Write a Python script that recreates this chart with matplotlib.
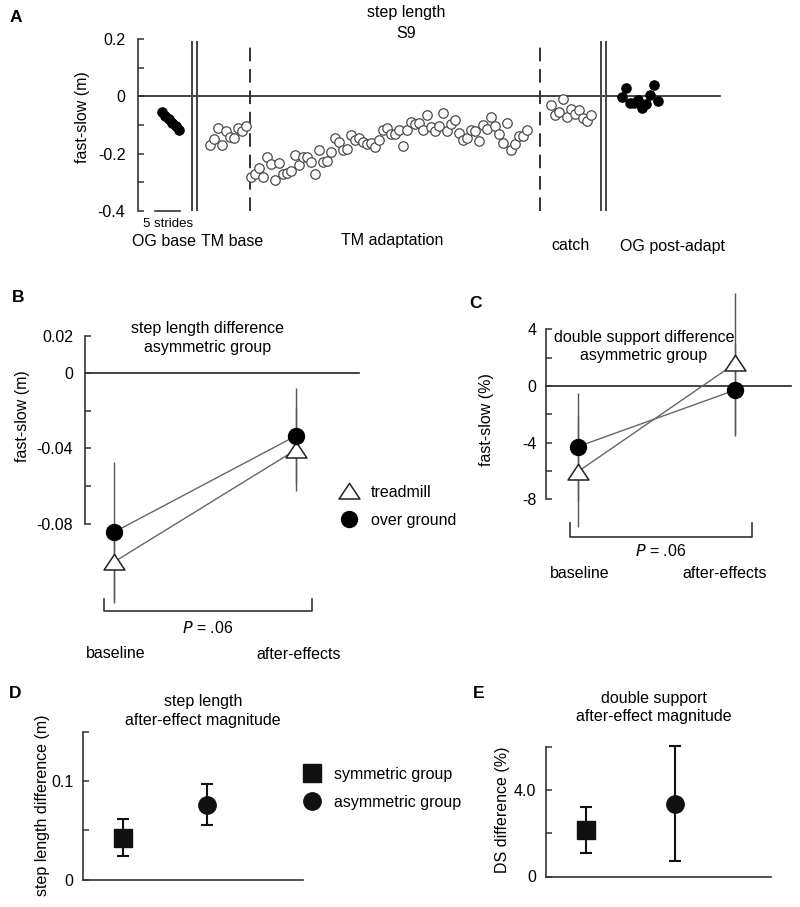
import numpy as np
import matplotlib
matplotlib.use("Agg")
import matplotlib.pyplot as plt
from matplotlib.path import Path

plt.rcParams['font.family'] = ['Liberation Sans', 'DejaVu Sans']
plt.rcParams['font.size'] = 11.5

# ---------------- DATA ----------------
# Panel A: step length asymmetry (fast-slow, m) for subject S9, per stride
og_base = [-0.055, -0.068, -0.080, -0.093, -0.105, -0.116]
tm_base = [-0.171, -0.150, -0.111, -0.171, -0.122, -0.143, -0.146, -0.111, -0.122, -0.105]
tm_adapt = [-0.283, -0.270, -0.250, -0.281, -0.211, -0.235, -0.293, -0.232, -0.270, -0.267,
            -0.260, -0.206, -0.238, -0.211, -0.211, -0.229, -0.270, -0.188, -0.229, -0.226,
            -0.194, -0.144, -0.159, -0.188, -0.185, -0.136, -0.153, -0.144, -0.159, -0.167,
            -0.163, -0.177, -0.153, -0.116, -0.109, -0.130, -0.132, -0.116, -0.174, -0.116,
            -0.089, -0.095, -0.093, -0.118, -0.066, -0.107, -0.121, -0.105, -0.058, -0.121,
            -0.095, -0.081, -0.128, -0.151, -0.144, -0.118, -0.121, -0.157, -0.101, -0.113,
            -0.072, -0.105, -0.132, -0.163, -0.093, -0.186, -0.165, -0.139, -0.139, -0.116]
catch = [-0.029, -0.066, -0.055, -0.010, -0.072, -0.043, -0.060, -0.049, -0.074, -0.086, -0.066]
og_post = [-0.002, 0.030, -0.023, -0.023, -0.014, -0.039, -0.025, 0.006, 0.038, -0.016]
phase_labels = ["OG base", "TM base", "TM adaptation", "catch", "OG post-adapt"]

# Panels B & C: asymmetric group, baseline vs after-effects
conditions = ["baseline", "after-effects"]
sl_treadmill = [-0.1005, -0.0407]
sl_treadmill_err = [0.020, 0.022]
sl_overground = [-0.0846, -0.0333]
sl_overground_err = [0.0375, 0.0255]
ds_treadmill = [-6.05, 1.60]
ds_treadmill_err = [3.90, 4.95]
ds_overground = [-4.28, -0.28]
ds_overground_err = [3.80, 3.25]

# Panels D & E: after-effect magnitudes
groups = ["symmetric group", "asymmetric group"]
sl_mag = [0.0425, 0.0762]
sl_mag_err = [0.019, 0.0205]
ds_mag = [2.17, 3.38]
ds_mag_err = [1.07, 2.65]

# ---------------- FIGURE ----------------
W, H = 800, 907
fig = plt.figure(figsize=(W / 100, H / 100), dpi=100)


def ax_px(left, top, right, bottom):
    return fig.add_axes([left / W, 1 - bottom / H, (right - left) / W, (bottom - top) / H])


def style_left(ax, lo, hi, ticks, labels, pad):
    for s in ['top', 'right', 'bottom']:
        ax.spines[s].set_visible(False)
    ax.spines['left'].set_bounds(lo, hi)
    ax.spines['left'].set_linewidth(1.2)
    ax.spines['left'].set_color('#333333')
    ax.set_yticks(ticks)
    ax.set_yticklabels(labels)
    ax.tick_params(axis='y', direction='in', length=4, width=1.1, color='#333333', pad=pad)
    ax.set_xticks([])
    ax.patch.set_alpha(0)


def ftext(x, y, s, **kw):
    fig.text(x / W, 1 - y / H, s, ha=kw.pop('ha', 'center'), va=kw.pop('va', 'center'), **kw)


def letter(x, y, s):
    ftext(x, y, s, fontsize=12.5, fontweight='bold')


# ---------------- Panel A ----------------
axA = ax_px(138, 39, 738, 211)
axA.set_xlim(0, 150)
axA.set_ylim(-0.4, 0.2)
style_left(axA, -0.4, 0.2, [0.2, 0.1, 0, -0.1, -0.2, -0.3, -0.4],
           ['0.2', '', '0', '', '-0.2', '', '-0.4'], pad=9)
ftext(83, 117, 'fast-slow (m)', rotation=90)

starts = [6, 18, 28.3, 103.2, 121]
series = [og_base, tm_base, tm_adapt, catch, og_post]
filled = [True, False, False, False, True]
spacing = [0.85, 1.0, 1.0, 1.0, 1.0]
axA.plot([0, 145.5], [0, 0], color='#222222', lw=1.2, zorder=1)
for st, ys, fl, sp in zip(starts, series, filled, spacing):
    xs = st + np.arange(len(ys)) * sp
    if fl:
        axA.plot(xs, ys, 'o', ms=6.8, mfc='black', mec='black', mew=0.8, ls='none', zorder=3)
    else:
        axA.plot(xs, ys, 'o', ms=6.8, mfc='white', mec='#4a4a4a', mew=0.9, ls='none', zorder=3)

for xv in [13.5, 14.75, 115.75, 117.0]:
    axA.plot([xv, xv], [-0.4, 0.19], color='#444444', lw=1.4, zorder=2)
for xv in [28.0, 100.5]:
    axA.plot([xv, xv], [-0.4, 0.19], color='#333333', lw=1.4, dashes=(7, 4), zorder=2)

# 5-stride scale bar
axA.plot([4.25, 10.5], [-0.4, -0.4], color='#333333', lw=1.2, clip_on=False)
axA.text(7.4, -0.445, '5 strides', fontsize=9.5, ha='center', va='center')

ftext(406, 13, 'step length')
ftext(406, 33, 'S9')
for (px, py), lab in zip([(164, 241), (232, 241), (392, 241), (571, 246), (673, 246)], phase_labels):
    ftext(px, py, lab, fontsize=11.5)
letter(16, 18, 'A')

# open triangle marker (wider than tall)
tri = Path([(-1, -0.72), (1, -0.72), (0, 0.78), (-1, -0.72)],
           [Path.MOVETO, Path.LINETO, Path.LINETO, Path.CLOSEPOLY])


def paired_panel(ax, tm, tm_err, og, og_err, bracket_y, bracket_tick, bx0, bx1, p_y):
    x = np.arange(len(conditions))
    ax.errorbar(x, tm, yerr=tm_err, fmt='none', ecolor='#555555', elinewidth=1.0, capsize=0, zorder=1)
    ax.errorbar(x, og, yerr=og_err, fmt='none', ecolor='#555555', elinewidth=1.0, capsize=0, zorder=1)
    ax.plot(x, tm, color='#666666', lw=1.0, zorder=2)
    ax.plot(x, og, color='#666666', lw=1.0, zorder=2)
    h1, = ax.plot(x, tm, marker=tri, ms=15, mfc='white', mec='#222222', mew=1.1, ls='none',
                  zorder=4, label='treadmill')
    h2, = ax.plot(x, og, 'o', ms=11.5, mfc='black', mec='black', ls='none', zorder=5, label='over ground')
    ax.plot([bx0, bx0, bx1, bx1], [bracket_tick, bracket_y, bracket_y, bracket_tick],
            color='#333333', lw=1.2, clip_on=False)
    ax.text((bx0 + bx1) / 2, p_y, '$\\it{P}$ = .06', ha='center', va='center', fontsize=11.5)
    return h1, h2


# ---------------- Panel B ----------------
axB = ax_px(85, 330, 340, 620)
axB.set_xlim(-0.1593, 1.2418)
axB.set_ylim(-0.1314, 0.02307)
style_left(axB, -0.08, 0.02, [0.02, 0, -0.02, -0.04, -0.06, -0.08],
           ['0.02', '0', '', '-0.04', '', '-0.08'], pad=8.5)
axB.plot([-0.1593, 1.346], [0, 0], color='#222222', lw=1.2, clip_on=False, zorder=1)
hB = paired_panel(axB, sl_treadmill, sl_treadmill_err, sl_overground, sl_overground_err,
                  -0.1267, -0.1203, -0.055, 1.088, -0.1357)
axB.text(0.011, -0.1495, conditions[0], ha='center', va='center', clip_on=False)
axB.text(1.016, -0.1500, conditions[1], ha='center', va='center', clip_on=False)
ftext(23, 416, 'fast-slow (m)', rotation=90)
axB.text(0.516, 0.0188, 'step length difference\nasymmetric group', ha='center', va='center',
         linespacing=1.35)
fig.legend(handles=list(hB), loc='upper left', bbox_to_anchor=(336 / W, 1 - 485 / H),
           frameon=False, fontsize=11.5, handlelength=1.6, handletextpad=0.6,
           labelspacing=0.8, borderpad=0, borderaxespad=0)
letter(18, 298, 'B')

# ---------------- Panel C ----------------
axC = ax_px(546, 285, 795, 600)
axC.set_xlim(-0.2012, 1.3786)
axC.set_ylim(-15.10, 7.13)
style_left(axC, -8, 4, [4, 2, 0, -2, -4, -6, -8], ['4', '', '0', '', '-4', '', '-8'], pad=7)
axC.plot([-0.2012, 1.3509], [0, 0], color='#222222', lw=1.2, clip_on=False, zorder=1)
paired_panel(axC, ds_treadmill, ds_treadmill_err, ds_overground, ds_overground_err,
             -10.63, -9.67, -0.052, 1.106, -11.64)
axC.text(0.015, -13.2, conditions[0], ha='center', va='center')
axC.text(0.93, -13.2, conditions[1], ha='center', va='center')
ftext(487, 420, 'fast-slow (%)', rotation=90)
axC.text(0.42, 2.79, 'double support difference\nasymmetric group', ha='center', va='center',
         linespacing=1.3)
letter(475, 303, 'C')


def mag_panel(ax, vals, errs):
    x = np.arange(len(groups))
    ax.errorbar(x, vals, yerr=errs, fmt='none', ecolor='#111111', elinewidth=1.5, capsize=4,
                capthick=1.5, zorder=1)
    h1, = ax.plot(x[0], vals[0], 's', ms=13, mfc='#111111', mec='#111111', ls='none', zorder=3,
                  label=groups[0])
    h2, = ax.plot(x[1], vals[1], 'o', ms=12.5, mfc='#111111', mec='#111111', ls='none', zorder=3,
                  label=groups[1])
    return h1, h2


# ---------------- Panel D ----------------
axD = ax_px(83, 725, 310, 879.5)
axD.set_xlim(-0.476, 2.226)
axD.set_ylim(0, 0.157)
style_left(axD, 0, 0.15, [0, 0.05, 0.1, 0.15], ['0', '', '0.1', ''], pad=7)
axD.spines['bottom'].set_visible(True)
axD.spines['bottom'].set_bounds(-0.476, 2.143)
axD.spines['bottom'].set_linewidth(1.2)
axD.spines['bottom'].set_color('#333333')
hD = mag_panel(axD, sl_mag, sl_mag_err)
ftext(43, 805, 'step length difference (m)', rotation=90)
axD.text(0.952, 0.1714, 'step length\nafter-effect magnitude', ha='center', va='center', clip_on=False,
         linespacing=1.3)
fig.legend(handles=list(hD), loc='upper left', bbox_to_anchor=(299 / W, 1 - 767 / H),
           frameon=False, fontsize=11.5, handlelength=1.6, handletextpad=0.6,
           labelspacing=0.8, borderpad=0, borderaxespad=0)
letter(15, 693, 'D')

# ---------------- Panel E ----------------
axE = ax_px(546, 740, 775, 876.5)
axE.set_xlim(-0.449, 2.124)
axE.set_ylim(0, 6.33)
style_left(axE, 0, 6, [0, 2, 4, 6], ['0', '', '4.0', ''], pad=7)
axE.spines['bottom'].set_visible(True)
axE.spines['bottom'].set_bounds(-0.449, 2.079)
axE.spines['bottom'].set_linewidth(1.2)
axE.spines['bottom'].set_color('#333333')
mag_panel(axE, ds_mag, ds_mag_err)
ftext(503, 810, 'DS difference (%)', rotation=90)
axE.text(0.764, 7.84, 'double support\nafter-effect magnitude', ha='center', va='center', clip_on=False,
         linespacing=1.3)
letter(479, 693, 'E')

fig.savefig('out.png', dpi=100)
